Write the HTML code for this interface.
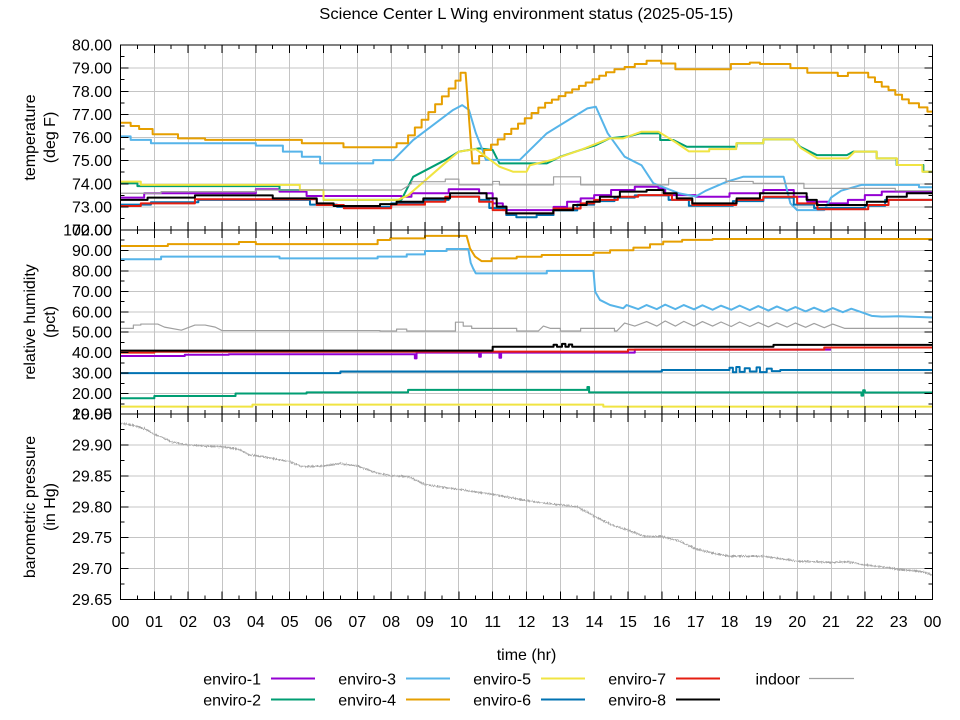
<!DOCTYPE html>
<html><head><meta charset="utf-8"><style>
html,body{margin:0;padding:0;background:#fff}
svg{display:block}
text{font-family:"Liberation Sans",sans-serif;font-size:16px;fill:#000}
</style></head><body>
<svg width="960" height="720" viewBox="0 0 960 720" xmlns="http://www.w3.org/2000/svg">
<rect width="960" height="720" fill="#fff"/>
<defs>
<clipPath id="cT"><rect x="120.5" y="45" width="812" height="185"/></clipPath>
<clipPath id="cM"><rect x="120.5" y="230" width="812" height="184"/></clipPath>
<clipPath id="cB"><rect x="120.5" y="414" width="812" height="185.5"/></clipPath>
<filter id="jit" filterUnits="userSpaceOnUse" x="110" y="405" width="830" height="200">
<feTurbulence type="fractalNoise" baseFrequency="0.9 0.6" numOctaves="1" seed="3" result="n"/>
<feDisplacementMap in="SourceGraphic" in2="n" scale="4" xChannelSelector="R" yChannelSelector="G"/>
</filter>
</defs>

<!-- grid -->
<g stroke="#c4c4c4" stroke-width="1" fill="none" shape-rendering="crispEdges">
<path d="M154.5,45V599.5M188.5,45V599.5M222.5,45V599.5M255.5,45V599.5M289.5,45V599.5M323.5,45V599.5M357.5,45V599.5M391.5,45V599.5M425.5,45V599.5M458.5,45V599.5M492.5,45V599.5M526.5,45V599.5M560.5,45V599.5M594.5,45V599.5M628.5,45V599.5M661.5,45V599.5M695.5,45V599.5M729.5,45V599.5M763.5,45V599.5M797.5,45V599.5M831.5,45V599.5M864.5,45V599.5M898.5,45V599.5"/>
<path d="M120.5,68.1H932.5M120.5,91.3H932.5M120.5,114.4H932.5M120.5,137.5H932.5M120.5,160.6H932.5M120.5,183.8H932.5M120.5,206.9H932.5M120.5,250.4H932.5M120.5,270.9H932.5M120.5,291.3H932.5M120.5,311.8H932.5M120.5,332.2H932.5M120.5,352.7H932.5M120.5,373.1H932.5M120.5,393.6H932.5M120.5,444.9H932.5M120.5,475.8H932.5M120.5,506.8H932.5M120.5,537.7H932.5M120.5,568.6H932.5"/>
</g>

<!-- TOP PANEL: temperature -->
<g clip-path="url(#cT)">
<g transform="translate(120.5,45) scale(33.8333,-23.125) translate(0,-80)" fill="none" stroke-linejoin="round">
<path vector-effect="non-scaling-stroke" stroke="#9400d3" stroke-width="2" d="M0,73.4H0.7V73.59H4V73.76H4.7V73.66H5.5V73.47H8.3V73.44H8.6V73.59H9.7V73.76H10.6V73.59H11V73.15H11.3V72.86H12.8V73H13.2V73.22H13.6V73.37H14V73.51H14.5V73.73H15.2V73.87H15.9V73.8H16.1V73.51H17V73.44H18V73.59H19V73.73H19.9V73.44H20.3V73.22H20.9V73.15H21.5V73.3H22V73.51H22.5V73.66H24"/>
<path vector-effect="non-scaling-stroke" stroke="#009e73" stroke-width="2" d="M0,74.02H0.5V73.9H4.7V73.73H6V73.3H8.3L8.65,74.3L9.6,75.03L10,75.39L10.6,75.53L11,75.46L11.2,74.88H12.6L13,75.17L13.6,75.46L14.05,75.67L14.45,75.96L15.05,76.06L15.36,76.18H15.95V75.89H16.34L16.74,75.6H18.21V75.75H19V75.92H19.89L20.09,75.6L20.58,75.24H21.47L21.66,75.39H22.35V75.1H22.94V74.81H23.73V74.52H24"/>
<path vector-effect="non-scaling-stroke" stroke="#56b4e9" stroke-width="2" d="M0,76.05H0.3V75.9H0.9V75.75H4V75.65H4.8V75.39H5.36V75.17H5.9V74.88H7.47V75.02H8.06L8.65,75.89L9.83,77.19L10.1,77.4L10.3,77.19L10.5,76.2L10.7,75.46L10.8,75.03H11.8L12.6,76.18L13.8,77.26L14.05,77.33L14.4,76.18L14.9,75.17L15.4,74.8L15.75,74.02L16.5,73.59L17,73.45L17.3,73.7L17.92,74.09L18.4,74.3H19.6L19.8,73.15L20,72.86H20.8L21,73.4L21.3,73.7L21.9,73.95H23.6V73.85H24"/>
<path vector-effect="non-scaling-stroke" stroke="#e69f00" stroke-width="2" d="M0,76.64H0.3V76.5H0.55V76.37H0.95V76.14H1.7V75.96H2.5V75.9H5.36V75.75H6.59V75.58H8.16V75.75H8.5V76.09H8.7V76.43H8.9V76.77H9.1V77.1H9.3V77.44H9.5V77.78H9.7V78.12H9.9V78.46H10.05V78.8H10.2L10.4,74.88H10.6V75.2H10.75V75.46H10.95V75.69H11.15V75.92H11.35V76.15H11.55V76.38H11.75V76.6H11.95V76.83H12.15V77.06H12.35V77.29H12.55V77.5H12.75V77.64H12.95V77.79H13.15V77.94H13.35V78.08H13.55V78.23H13.75V78.38H13.95V78.52H14.15V78.67H14.35V78.82H14.6V78.95H14.9V79.05H15.2V79.18H15.55V79.32H15.98V79.2H16.4V78.95H18.04V79.18H18.6V79.24H18.9V79.18H19.8V79H20.3V78.8H21.2V78.66H21.5V78.8H22.1V78.6H22.3V78.4H22.5V78.2H22.7V78.05H22.9V77.85H23.1V77.65H23.3V77.48H23.6V77.3H23.85V77.12H24"/>
<path vector-effect="non-scaling-stroke" stroke="#f0e442" stroke-width="2" d="M0,74.09H0.6V73.95H5.3V73.73H6V73.3H8.2L8.5,73.5L9.6,74.9L10,75.39L10.5,75.5L11.2,74.74L11.6,74.52H12L12.1,74.8L12.75,75.03L13.6,75.46L14.45,75.96L14.85,75.96L15.4,76.25H15.9L16.4,75.8L16.8,75.4H17.4V75.5H18.2V75.75H19V75.92H19.9L20.1,75.55L20.6,75.1H21.5L21.7,75.39H22.35V75.1H22.95V74.81H23.7V74.52H24"/>
<path vector-effect="non-scaling-stroke" stroke="#0072b2" stroke-width="2" d="M0,73.1H0.9V73.2H2.3V73.3H5.6V73.1H6.4V73H8V73.15H9V73.3H9.7V73.45H10.6V73.3H10.9V72.95H11.4V72.65H11.7V72.55H12.3V72.65H12.8V72.85H13.5V73.1H14V73.25H14.6V73.4H15.2V73.5H16.2V73.3H16.8V73.05H18.1V73.25H19V73.4H19.9V73.1H20.5V72.95H22V73.05H22.6V73.3H24"/>
<path vector-effect="non-scaling-stroke" stroke="#e51e10" stroke-width="2" d="M0,73.04H0.6V73.15H2.2V73.33H5.8V73.08H6.6V72.94H8V73.1H9V73.22H9.6V73.44H10.6V73.22H11V72.86H11.4V72.72H12.8V72.93H13.6V73.15H14V73.3H14.7V73.44H15.3V73.51H16.3V73.3H16.9V73.08H18.2V73.3H19V73.44H20V73.15H20.6V72.9H22.1V73.08H22.7V73.3H24"/>
<path vector-effect="non-scaling-stroke" stroke="#000" stroke-width="2" d="M0,73.3H0.8V73.4H2.2V73.5H4.5V73.37H5.8V73.15H6.3V73.04H7.67V73.12H8.16V73.22H8.95V73.37H9.74V73.59H10.82V73.37H11.12V73.01H11.41V72.72H12.79V72.86H13.38V73.08H13.78V73.22H14.17V73.44H14.76V73.66H15.55V73.73H16.05V73.59H16.44V73.37H16.9V73.15H18.21V73.37H18.9V73.59H20.28V73.3H20.58V73.08H22.06V73.22H22.65V73.44H23.24V73.59H24"/>
<path vector-effect="non-scaling-stroke" stroke="#a0a0a0" stroke-width="1.2" d="M0,73.59H1.2V73.66H4V73.73H8.3L8.6,74V74.09H9.6V74.2H10V73.95H11V74.1H11.2V73.95H12.8V74.3H13.6V73.95H16.2V74.23H17.9V74.1H18.7V74.02H20.2V73.8H22.9V73.7H24"/>
</g>
</g>

<!-- MIDDLE PANEL: humidity -->
<g clip-path="url(#cM)">
<g transform="translate(120.5,230) scale(33.8333,-2.04444) translate(0,-100)" fill="none" stroke-linejoin="round">
<path vector-effect="non-scaling-stroke" stroke="#9400d3" stroke-width="2" d="M0,38.4H1.9V39H3.2V39.2H8.7V37.2H8.75V40H10.6V38H10.65V40H11.2V37.5H11.25V40H15.2V41.5H21"/>
<path vector-effect="non-scaling-stroke" stroke="#009e73" stroke-width="2" d="M0,17.7H1V18.8H3.4V20H5.5V20.6H8.5V21.8H13.8V23.2H13.85V20.6H21.9V19H21.95V21.6H22V20.5H24"/>
<path vector-effect="non-scaling-stroke" stroke="#56b4e9" stroke-width="2" d="M0,85.7H1.2V87H4.7V86.1H7.6V87H8.46V88.1H9V89.7H9.64V90.7H10.28L10.35,84L10.42,81.3L10.5,78.8H12.6V80H13.98L14.03,69.8L14.17,65.8L14.47,63.3L14.86,61.7L14.96,63.3L15.3,61.3L15.55,63.3L15.85,61.3L16.1,63.5L16.4,61.3L16.65,63.3L16.95,61.2L17.2,63.2L17.5,61L17.75,63L18.05,61L18.3,63L18.6,60.8L18.85,62.8L19.15,60.6L19.4,62.6L19.7,60.5L19.95,62.3L20.25,60.2L20.5,62L20.8,60L21.05,61.8L21.35,59.8L21.6,61.5L21.9,59.8L22.2,58L22.5,57.6L23,57.8L23.5,57.5L24,57.2"/>
<path vector-effect="non-scaling-stroke" stroke="#e69f00" stroke-width="2" d="M0,92.2H1.4V93.1H3.5V94.1H4V93.1H7.6V95.1H7.97V95.9H9V97.1H10.23L10.33,91L10.48,87L10.67,84.8H10.97V86.1H11.71V86.9H12.45V87.8H13.98V88.9H14.47V90.1H15.16V91.4H15.65V93H16.04V94.3H16.6V95.2H17.5V95.6H24"/>
<path vector-effect="non-scaling-stroke" stroke="#f0e442" stroke-width="2" d="M0,13.6H3.9V14.6H14.27V13.6H24"/>
<path vector-effect="non-scaling-stroke" stroke="#0072b2" stroke-width="2" d="M0,30H6.5V30.8H16V31.5H18V32.6H18.1V30.4H18.2V33H18.3V30.6H18.45V32.4H18.6V30.8H18.8V32.8H18.9V30.5H19.1V32.2H19.25V31H19.5V31.5H24"/>
<path vector-effect="non-scaling-stroke" stroke="#e51e10" stroke-width="2" d="M0,40H1V40.5H15V41.5H20.8V42.5H24"/>
<path vector-effect="non-scaling-stroke" stroke="#000" stroke-width="2" d="M0,41H11V42.9H12.8V43.9H12.9V42.9H13.05V44.3H13.15V42.9H13.25V44H13.35V42.9H19.3V43.8H24"/>
<path vector-effect="non-scaling-stroke" stroke="#a0a0a0" stroke-width="1.2" d="M0,51.9H0.38V53.5H0.6V54H1.1L1.3,52.5L1.8,51L2.2,53.5H2.5L2.8,52.5L3,50.8H7.67V50.6H8.16V51.5H8.46V50.6H9.9V54.9H10.13V53H10.38V51.9H11.71V50.6H12.35L12.5,53L12.7,51.9H13V50.6H13.6V51.9H14.6V50.6H14.67L14.9,54.5L15.2,53L15.55,55.2L15.85,53L16.1,55.5L16.4,53L16.65,55.3L16.95,53L17.2,55.2L17.5,53L17.75,55L18.05,52.8L18.3,55L18.6,52.8L18.85,54.8L19.15,52.6L19.4,54.6L19.7,52.5L19.95,54.5L20.25,52.4L20.5,54.3L20.8,52.2L21.05,54L21.4,51.9H24"/>
</g>
</g>

<!-- BOTTOM PANEL: pressure -->
<g clip-path="url(#cB)">
<g filter="url(#jit)">
<g transform="translate(120.5,414) scale(33.8333,-618.33) translate(0,-29.95)" fill="none" stroke-linejoin="round">
<path vector-effect="non-scaling-stroke" stroke="#a8a8a8" stroke-width="1.5" d="M0,29.935L0.25,29.933L0.5,29.93L0.75,29.925L1,29.917L1.25,29.912L1.5,29.905L1.75,29.902L2,29.9L2.5,29.898L3,29.897L3.5,29.893L3.8,29.884L4.2,29.881L4.5,29.878L5,29.873L5.3,29.866L5.5,29.865L6,29.866L6.5,29.87L7,29.866L7.5,29.856L8,29.85L8.5,29.849L9,29.836L9.5,29.832L10,29.828L10.5,29.824L11,29.82L11.5,29.815L12,29.81L12.5,29.806L13,29.803L13.5,29.8L14,29.785L14.5,29.771L15,29.762L15.5,29.752L16,29.752L16.5,29.745L17,29.732L17.5,29.725L18,29.72L18.5,29.72L19,29.72L19.5,29.716L20,29.712L20.5,29.711L21,29.71L21.5,29.711L22,29.706L22.5,29.703L23,29.699L23.5,29.696L23.8,29.694L24,29.689"/>
</g>
</g>
</g>

<!-- ticks -->
<g stroke="#000" stroke-width="1" fill="none" shape-rendering="crispEdges">
<path transform="translate(120.5,0) scale(33.8333,1)" vector-effect="non-scaling-stroke" d="M1,45v8M1,222v16M1,406v16M1,591.5v8M2,45v8M2,222v16M2,406v16M2,591.5v8M3,45v8M3,222v16M3,406v16M3,591.5v8M4,45v8M4,222v16M4,406v16M4,591.5v8M5,45v8M5,222v16M5,406v16M5,591.5v8M6,45v8M6,222v16M6,406v16M6,591.5v8M7,45v8M7,222v16M7,406v16M7,591.5v8M8,45v8M8,222v16M8,406v16M8,591.5v8M9,45v8M9,222v16M9,406v16M9,591.5v8M10,45v8M10,222v16M10,406v16M10,591.5v8M11,45v8M11,222v16M11,406v16M11,591.5v8M12,45v8M12,222v16M12,406v16M12,591.5v8M13,45v8M13,222v16M13,406v16M13,591.5v8M14,45v8M14,222v16M14,406v16M14,591.5v8M15,45v8M15,222v16M15,406v16M15,591.5v8M16,45v8M16,222v16M16,406v16M16,591.5v8M17,45v8M17,222v16M17,406v16M17,591.5v8M18,45v8M18,222v16M18,406v16M18,591.5v8M19,45v8M19,222v16M19,406v16M19,591.5v8M20,45v8M20,222v16M20,406v16M20,591.5v8M21,45v8M21,222v16M21,406v16M21,591.5v8M22,45v8M22,222v16M22,406v16M22,591.5v8M23,45v8M23,222v16M23,406v16M23,591.5v8"/>
<path transform="translate(120.5,0) scale(33.8333,1)" vector-effect="non-scaling-stroke" d="M0.5,45v4M0.5,226v8M0.5,410v8M0.5,595.5v4M1.5,45v4M1.5,226v8M1.5,410v8M1.5,595.5v4M2.5,45v4M2.5,226v8M2.5,410v8M2.5,595.5v4M3.5,45v4M3.5,226v8M3.5,410v8M3.5,595.5v4M4.5,45v4M4.5,226v8M4.5,410v8M4.5,595.5v4M5.5,45v4M5.5,226v8M5.5,410v8M5.5,595.5v4M6.5,45v4M6.5,226v8M6.5,410v8M6.5,595.5v4M7.5,45v4M7.5,226v8M7.5,410v8M7.5,595.5v4M8.5,45v4M8.5,226v8M8.5,410v8M8.5,595.5v4M9.5,45v4M9.5,226v8M9.5,410v8M9.5,595.5v4M10.5,45v4M10.5,226v8M10.5,410v8M10.5,595.5v4M11.5,45v4M11.5,226v8M11.5,410v8M11.5,595.5v4M12.5,45v4M12.5,226v8M12.5,410v8M12.5,595.5v4M13.5,45v4M13.5,226v8M13.5,410v8M13.5,595.5v4M14.5,45v4M14.5,226v8M14.5,410v8M14.5,595.5v4M15.5,45v4M15.5,226v8M15.5,410v8M15.5,595.5v4M16.5,45v4M16.5,226v8M16.5,410v8M16.5,595.5v4M17.5,45v4M17.5,226v8M17.5,410v8M17.5,595.5v4M18.5,45v4M18.5,226v8M18.5,410v8M18.5,595.5v4M19.5,45v4M19.5,226v8M19.5,410v8M19.5,595.5v4M20.5,45v4M20.5,226v8M20.5,410v8M20.5,595.5v4M21.5,45v4M21.5,226v8M21.5,410v8M21.5,595.5v4M22.5,45v4M22.5,226v8M22.5,410v8M22.5,595.5v4M23.5,45v4M23.5,226v8M23.5,410v8M23.5,595.5v4"/>
<path d="M120.5,68.1h8M120.5,91.3h8M120.5,114.4h8M120.5,137.5h8M120.5,160.6h8M120.5,183.8h8M120.5,206.9h8M120.5,250.4h8M120.5,270.9h8M120.5,291.3h8M120.5,311.8h8M120.5,332.2h8M120.5,352.7h8M120.5,373.1h8M120.5,393.6h8M120.5,444.9h8M120.5,475.8h8M120.5,506.8h8M120.5,537.7h8M120.5,568.6h8M932.5,68.1h-8M932.5,91.3h-8M932.5,114.4h-8M932.5,137.5h-8M932.5,160.6h-8M932.5,183.8h-8M932.5,206.9h-8M932.5,250.4h-8M932.5,270.9h-8M932.5,291.3h-8M932.5,311.8h-8M932.5,332.2h-8M932.5,352.7h-8M932.5,373.1h-8M932.5,393.6h-8M932.5,444.9h-8M932.5,475.8h-8M932.5,506.8h-8M932.5,537.7h-8M932.5,568.6h-8"/>
<path d="M120.5,56.6h4M120.5,79.7h4M120.5,102.8h4M120.5,125.9h4M120.5,149.1h4M120.5,172.2h4M120.5,195.3h4M120.5,218.4h4M120.5,240.2h4M120.5,260.7h4M120.5,281.1h4M120.5,301.6h4M120.5,322h4M120.5,342.4h4M120.5,362.9h4M120.5,383.3h4M120.5,403.8h4M120.5,429.5h4M120.5,460.4h4M120.5,491.3h4M120.5,522.2h4M120.5,553.1h4M120.5,584h4M932.5,56.6h-4M932.5,79.7h-4M932.5,102.8h-4M932.5,125.9h-4M932.5,149.1h-4M932.5,172.2h-4M932.5,195.3h-4M932.5,218.4h-4M932.5,240.2h-4M932.5,260.7h-4M932.5,281.1h-4M932.5,301.6h-4M932.5,322h-4M932.5,342.4h-4M932.5,362.9h-4M932.5,383.3h-4M932.5,403.8h-4M932.5,429.5h-4M932.5,460.4h-4M932.5,491.3h-4M932.5,522.2h-4M932.5,553.1h-4M932.5,584h-4"/>
<rect x="120.5" y="45" width="812" height="554.5"/>
<path d="M120.5,230H932.5M120.5,414H932.5"/>
</g>

<!-- y tick labels -->
<g text-anchor="end">
<text x="112" y="50.5">80.00</text><text x="112" y="73.6">79.00</text><text x="112" y="96.8">78.00</text><text x="112" y="119.9">77.00</text><text x="112" y="143">76.00</text><text x="112" y="166.1">75.00</text><text x="112" y="189.3">74.00</text><text x="112" y="212.4">73.00</text><text x="112" y="235.5">72.00</text>
<text x="112" y="235.5">100.00</text><text x="112" y="255.9">90.00</text><text x="112" y="276.4">80.00</text><text x="112" y="296.8">70.00</text><text x="112" y="317.3">60.00</text><text x="112" y="337.7">50.00</text><text x="112" y="358.2">40.00</text><text x="112" y="378.6">30.00</text><text x="112" y="399.1">20.00</text><text x="112" y="419.5">10.00</text>
<text x="112" y="419.5">29.95</text><text x="112" y="450.4">29.90</text><text x="112" y="481.3">29.85</text><text x="112" y="512.3">29.80</text><text x="112" y="543.2">29.75</text><text x="112" y="574.1">29.70</text><text x="112" y="605">29.65</text>
</g>

<!-- x tick labels -->
<g text-anchor="middle">
<text x="120.5" y="627">00</text><text x="154.3" y="627">01</text><text x="188.2" y="627">02</text><text x="222" y="627">03</text><text x="255.8" y="627">04</text><text x="289.7" y="627">05</text><text x="323.5" y="627">06</text><text x="357.3" y="627">07</text><text x="391.2" y="627">08</text><text x="425" y="627">09</text><text x="458.8" y="627">10</text><text x="492.7" y="627">11</text><text x="526.5" y="627">12</text><text x="560.3" y="627">13</text><text x="594.2" y="627">14</text><text x="628" y="627">15</text><text x="661.8" y="627">16</text><text x="695.7" y="627">17</text><text x="729.5" y="627">18</text><text x="763.3" y="627">19</text><text x="797.2" y="627">20</text><text x="831" y="627">21</text><text x="864.8" y="627">22</text><text x="898.7" y="627">23</text><text x="932.5" y="627">00</text>
<text x="526.5" y="660">time (hr)</text>
<text x="526.3" y="19" textLength="414" lengthAdjust="spacingAndGlyphs">Science Center L Wing environment status (2025-05-15)</text>
</g>

<!-- y axis titles -->
<g text-anchor="middle">
<text transform="translate(35,137.5) rotate(-90)">temperature</text>
<text transform="translate(55,137.5) rotate(-90)">(deg F)</text>
<text transform="translate(35,322) rotate(-90)">relative humidity</text>
<text transform="translate(55,322) rotate(-90)">(pct)</text>
<text transform="translate(35,507) rotate(-90)">barometric pressure</text>
<text transform="translate(55,507) rotate(-90)">(in Hg)</text>
</g>

<!-- legend -->
<g text-anchor="end">
<text x="261" y="684.5">enviro-1</text>
<text x="261" y="705.5">enviro-2</text>
<text x="396" y="684.5">enviro-3</text>
<text x="396" y="705.5">enviro-4</text>
<text x="531" y="684.5">enviro-5</text>
<text x="531" y="705.5">enviro-6</text>
<text x="666" y="684.5">enviro-7</text>
<text x="666" y="705.5">enviro-8</text>
<text x="800" y="684.5">indoor</text>
</g>
<g fill="none">
<path d="M271,678.5H315" stroke="#9400d3" stroke-width="2"/>
<path d="M271,699.5H315" stroke="#009e73" stroke-width="2"/>
<path d="M406,678.5H450" stroke="#56b4e9" stroke-width="2"/>
<path d="M406,699.5H450" stroke="#e69f00" stroke-width="2"/>
<path d="M541,678.5H585" stroke="#f0e442" stroke-width="2"/>
<path d="M541,699.5H585" stroke="#0072b2" stroke-width="2"/>
<path d="M676,678.5H720" stroke="#e51e10" stroke-width="2"/>
<path d="M676,699.5H720" stroke="#000" stroke-width="2"/>
<path d="M809,678.5H854" stroke="#a0a0a0" stroke-width="1.2"/>
</g>
</svg>
</body></html>
